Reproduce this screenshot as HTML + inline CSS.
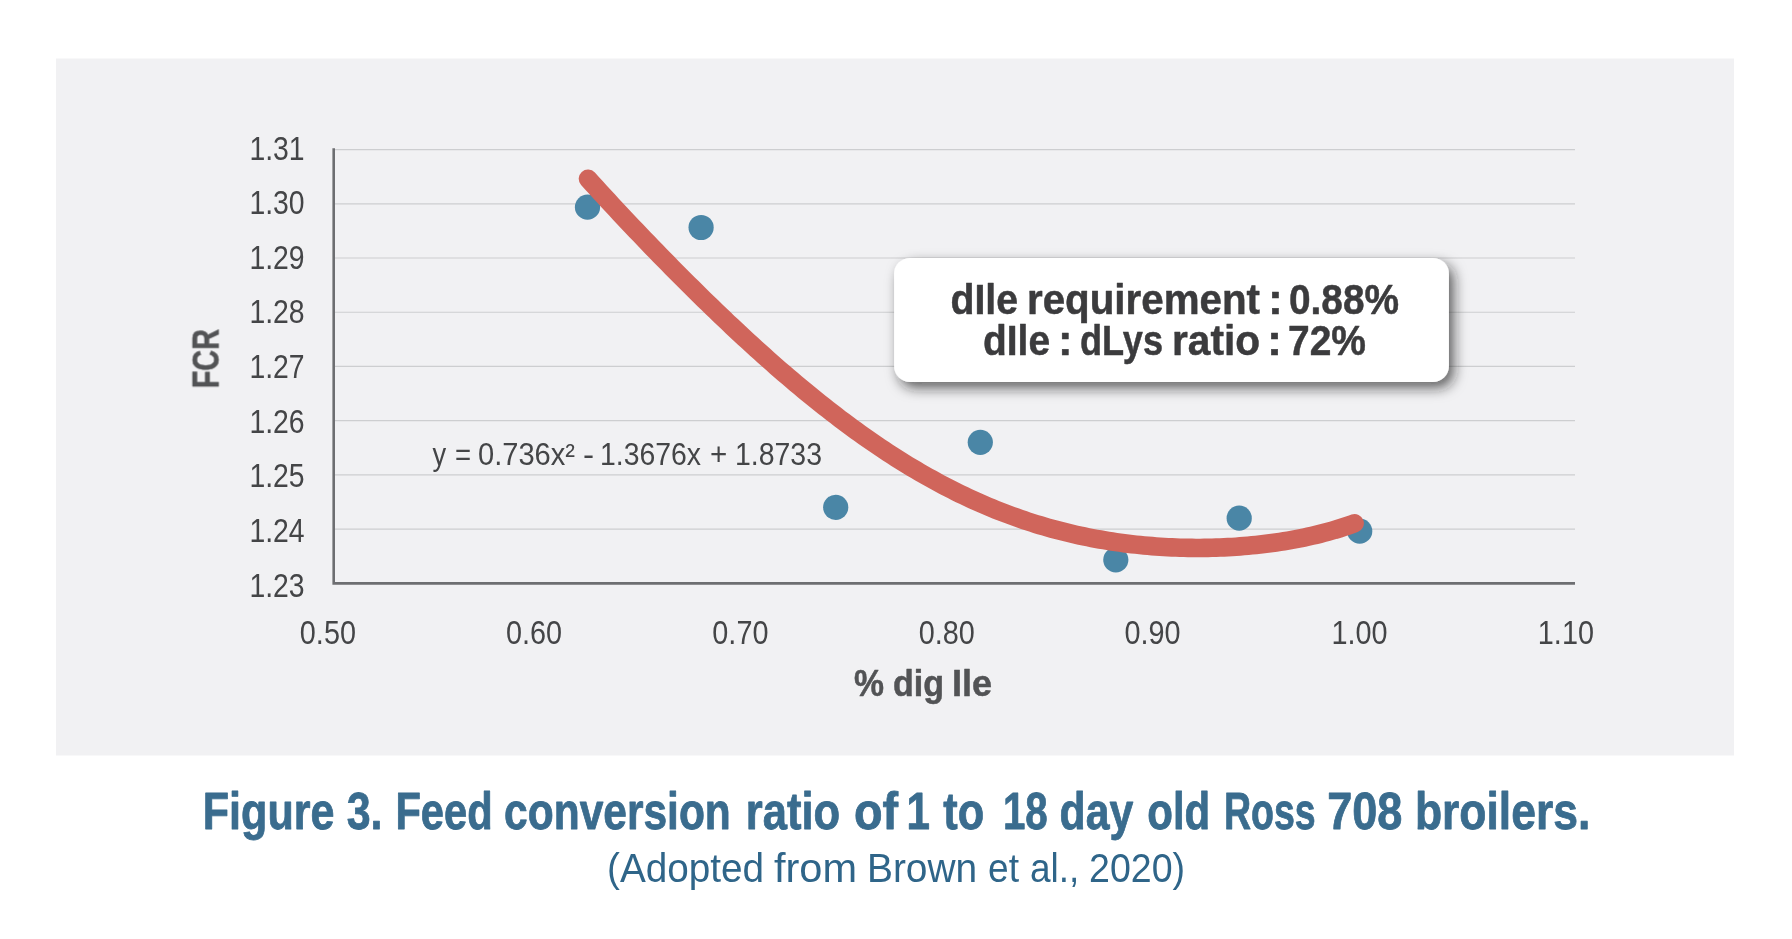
<!DOCTYPE html>
<html lang="en"><head><meta charset="utf-8"><title>Figure 3. Feed conversion ratio of 1 to 18 day old Ross 708 broilers</title>
<style>html,body{margin:0;padding:0;background:#fff}svg{display:block}text{font-family:"Liberation Sans",sans-serif}</style></head><body>
<svg width="1792" height="939" viewBox="0 0 1792 939">
<defs><filter id="sh" x="-10%" y="-30%" width="120%" height="170%"><feGaussianBlur in="SourceAlpha" stdDeviation="6.4"/><feOffset dx="4.5" dy="6" result="b"/><feFlood flood-color="#1c1c1c" flood-opacity="0.67"/><feComposite in2="b" operator="in"/><feMerge><feMergeNode/><feMergeNode in="SourceGraphic"/></feMerge></filter><filter id="n" filterUnits="userSpaceOnUse" x="0" y="0" width="1792" height="939" color-interpolation-filters="sRGB"><feOffset dx="0" dy="0"/></filter></defs>
<rect x="56" y="58.5" width="1678" height="697.0" fill="#f1f1f3"/>
<g stroke="#cdced0" stroke-width="1.2">
<line x1="334" y1="149.60" x2="1575" y2="149.60"/>
<line x1="334" y1="203.81" x2="1575" y2="203.81"/>
<line x1="334" y1="258.02" x2="1575" y2="258.02"/>
<line x1="334" y1="312.23" x2="1575" y2="312.23"/>
<line x1="334" y1="366.44" x2="1575" y2="366.44"/>
<line x1="334" y1="420.65" x2="1575" y2="420.65"/>
<line x1="334" y1="474.86" x2="1575" y2="474.86"/>
<line x1="334" y1="529.07" x2="1575" y2="529.07"/>
</g>
<path d="M333.7,148.2 V583.4 H1575" fill="none" stroke="#6d6e71" stroke-width="2.6"/>
<g filter="url(#n)">
<g fill="#444547" font-size="33.4" text-anchor="end">
<text x="304.6" y="159.60" textLength="55.2" lengthAdjust="spacingAndGlyphs">1.31</text>
<text x="304.6" y="214.22" textLength="55.2" lengthAdjust="spacingAndGlyphs">1.30</text>
<text x="304.6" y="268.85" textLength="55.2" lengthAdjust="spacingAndGlyphs">1.29</text>
<text x="304.6" y="323.48" textLength="55.2" lengthAdjust="spacingAndGlyphs">1.28</text>
<text x="304.6" y="378.10" textLength="55.2" lengthAdjust="spacingAndGlyphs">1.27</text>
<text x="304.6" y="432.73" textLength="55.2" lengthAdjust="spacingAndGlyphs">1.26</text>
<text x="304.6" y="487.35" textLength="55.2" lengthAdjust="spacingAndGlyphs">1.25</text>
<text x="304.6" y="541.98" textLength="55.2" lengthAdjust="spacingAndGlyphs">1.24</text>
<text x="304.6" y="596.60" textLength="55.2" lengthAdjust="spacingAndGlyphs">1.23</text>
</g>
<g fill="#444547" font-size="33.4" text-anchor="middle">
<text x="327.90" y="643.8" textLength="56.1" lengthAdjust="spacingAndGlyphs">0.50</text>
<text x="533.95" y="643.8" textLength="56.1" lengthAdjust="spacingAndGlyphs">0.60</text>
<text x="740.40" y="643.8" textLength="56.1" lengthAdjust="spacingAndGlyphs">0.70</text>
<text x="946.70" y="643.8" textLength="56.1" lengthAdjust="spacingAndGlyphs">0.80</text>
<text x="1152.50" y="643.8" textLength="56.1" lengthAdjust="spacingAndGlyphs">0.90</text>
<text x="1359.60" y="643.8" textLength="56.1" lengthAdjust="spacingAndGlyphs">1.00</text>
<text x="1565.90" y="643.8" textLength="56.1" lengthAdjust="spacingAndGlyphs">1.10</text>
</g>
<text y="695.6" font-size="36.2" font-weight="bold" fill="#525355" stroke="#525355" stroke-width="0.5" stroke-linejoin="round"><tspan x="854.00" textLength="30.03" lengthAdjust="spacingAndGlyphs">%</tspan> <tspan x="893.00" textLength="51.10" lengthAdjust="spacingAndGlyphs">dig</tspan> <tspan x="952.00" textLength="40.12" lengthAdjust="spacingAndGlyphs">Ile</tspan></text>
<text transform="translate(218.6,388.3) rotate(-90)" font-size="36.5" font-weight="bold" fill="#525355" stroke="#525355" stroke-width="0.5" stroke-linejoin="round" textLength="59.2" lengthAdjust="spacingAndGlyphs">FCR</text>
<text y="465.2" font-size="31.3" fill="#444547"><tspan x="432.50" textLength="13.64" lengthAdjust="spacingAndGlyphs">y</tspan> <tspan x="455.00" textLength="16.09" lengthAdjust="spacingAndGlyphs">=</tspan> <tspan x="478.00" textLength="97.01" lengthAdjust="spacingAndGlyphs">0.736x²</tspan> <tspan x="583.00" textLength="11.09" lengthAdjust="spacingAndGlyphs">-</tspan> <tspan x="600.00" textLength="100.99" lengthAdjust="spacingAndGlyphs">1.3676x</tspan> <tspan x="710.00" textLength="17.26" lengthAdjust="spacingAndGlyphs">+</tspan> <tspan x="735.00" textLength="87.03" lengthAdjust="spacingAndGlyphs">1.8733</tspan></text>
</g>
<g fill="#4a86a6">
<circle cx="587.5" cy="207.2" r="12.6"/>
<circle cx="701.1" cy="227.5" r="12.6"/>
<circle cx="835.7" cy="507.3" r="12.6"/>
<circle cx="980.3" cy="442.3" r="12.6"/>
<circle cx="1115.8" cy="559.8" r="12.6"/>
<circle cx="1239.2" cy="518.2" r="12.6"/>
<circle cx="1359.7" cy="531.2" r="12.6"/>
</g>
<path d="M588.0,178.80 L592.0,183.21 L596.0,187.60 L600.0,191.97 L604.0,196.32 L608.0,200.65 L612.0,204.97 L616.0,209.27 L620.0,213.55 L624.0,217.81 L628.0,222.06 L632.0,226.29 L636.0,230.50 L640.0,234.70 L644.0,238.88 L648.0,243.04 L652.0,247.19 L656.0,251.32 L660.0,255.43 L664.0,259.52 L668.0,263.60 L672.0,267.67 L676.0,271.71 L680.0,275.74 L684.0,279.75 L688.0,283.74 L692.0,287.71 L696.0,291.67 L700.0,295.61 L704.0,299.53 L708.0,303.42 L712.0,307.30 L716.0,311.16 L720.0,315.00 L724.0,318.82 L728.0,322.62 L732.0,326.39 L736.0,330.15 L740.0,333.88 L744.0,337.59 L748.0,341.28 L752.0,344.94 L756.0,348.58 L760.0,352.19 L764.0,355.78 L768.0,359.35 L772.0,362.89 L776.0,366.40 L780.0,369.89 L784.0,373.35 L788.0,376.79 L792.0,380.19 L796.0,383.57 L800.0,386.92 L804.0,390.25 L808.0,393.54 L812.0,396.80 L816.0,400.03 L820.0,403.24 L824.0,406.41 L828.0,409.55 L832.0,412.66 L836.0,415.73 L840.0,418.78 L844.0,421.79 L848.0,424.77 L852.0,427.71 L856.0,430.63 L860.0,433.51 L864.0,436.35 L868.0,439.16 L872.0,441.93 L876.0,444.67 L880.0,447.38 L884.0,450.05 L888.0,452.68 L892.0,455.28 L896.0,457.84 L900.0,460.37 L904.0,462.86 L908.0,465.31 L912.0,467.72 L916.0,470.10 L920.0,472.44 L924.0,474.74 L928.0,477.01 L932.0,479.24 L936.0,481.43 L940.0,483.58 L944.0,485.70 L948.0,487.78 L952.0,489.82 L956.0,491.82 L960.0,493.78 L964.0,495.71 L968.0,497.60 L972.0,499.45 L976.0,501.26 L980.0,503.04 L984.0,504.78 L988.0,506.48 L992.0,508.14 L996.0,509.77 L1000.0,511.36 L1004.0,512.91 L1008.0,514.42 L1012.0,515.90 L1016.0,517.34 L1020.0,518.75 L1024.0,520.12 L1028.0,521.45 L1032.0,522.75 L1036.0,524.01 L1040.0,525.23 L1044.0,526.42 L1048.0,527.58 L1052.0,528.70 L1056.0,529.79 L1060.0,530.84 L1064.0,531.86 L1068.0,532.84 L1072.0,533.79 L1076.0,534.71 L1080.0,535.59 L1084.0,536.44 L1088.0,537.26 L1092.0,538.04 L1096.0,538.80 L1100.0,539.52 L1104.0,540.21 L1108.0,540.87 L1112.0,541.50 L1116.0,542.10 L1120.0,542.66 L1124.0,543.20 L1128.0,543.71 L1132.0,544.19 L1136.0,544.63 L1140.0,545.05 L1144.0,545.44 L1148.0,545.80 L1152.0,546.13 L1156.0,546.44 L1160.0,546.71 L1164.0,546.96 L1168.0,547.18 L1172.0,547.37 L1176.0,547.53 L1180.0,547.67 L1184.0,547.77 L1188.0,547.86 L1192.0,547.91 L1196.0,547.93 L1200.0,547.93 L1204.0,547.90 L1208.0,547.84 L1212.0,547.76 L1216.0,547.65 L1220.0,547.51 L1224.0,547.34 L1228.0,547.14 L1232.0,546.92 L1236.0,546.66 L1240.0,546.38 L1244.0,546.07 L1248.0,545.73 L1252.0,545.36 L1256.0,544.95 L1260.0,544.52 L1264.0,544.06 L1268.0,543.56 L1272.0,543.03 L1276.0,542.47 L1280.0,541.87 L1284.0,541.24 L1288.0,540.58 L1292.0,539.87 L1296.0,539.14 L1300.0,538.36 L1304.0,537.54 L1308.0,536.69 L1312.0,535.79 L1316.0,534.85 L1320.0,533.86 L1324.0,532.83 L1328.0,531.76 L1332.0,530.64 L1336.0,529.47 L1340.0,528.24 L1344.0,526.97 L1348.0,525.64 L1352.0,524.25 L1354.6,523.32" fill="none" stroke="#d0655b" stroke-width="18.6" stroke-linecap="round" stroke-linejoin="round"/>
<rect x="894.1" y="257.9" width="554.8" height="124.1" rx="16" ry="16" fill="#fff" filter="url(#sh)"/>
<g fill="#3b3b3d" stroke="#3b3b3d" stroke-width="0.5" stroke-linejoin="round" font-size="41.6" font-weight="bold" filter="url(#n)">
<text y="314.1" ><tspan x="950.50" textLength="67.53" lengthAdjust="spacingAndGlyphs">dIle</tspan> <tspan x="1027.00" textLength="233.00" lengthAdjust="spacingAndGlyphs">requirement</tspan> <tspan x="1268.00" textLength="14.84" lengthAdjust="spacingAndGlyphs">:</tspan> <tspan x="1289.00" textLength="110.07" lengthAdjust="spacingAndGlyphs">0.88%</tspan></text>
<text y="355.2" ><tspan x="983.00" textLength="67.05" lengthAdjust="spacingAndGlyphs">dIle</tspan> <tspan x="1058.00" textLength="14.54" lengthAdjust="spacingAndGlyphs">:</tspan> <tspan x="1080.00" textLength="83.02" lengthAdjust="spacingAndGlyphs">dLys</tspan> <tspan x="1172.00" textLength="88.06" lengthAdjust="spacingAndGlyphs">ratio</tspan> <tspan x="1267.00" textLength="15.07" lengthAdjust="spacingAndGlyphs">:</tspan> <tspan x="1288.00" textLength="78.00" lengthAdjust="spacingAndGlyphs">72%</tspan></text>
</g>
<g filter="url(#n)">
<text y="828.7" font-size="51.5" font-weight="bold" fill="#3a6c8e" stroke="#3a6c8e" stroke-width="0.8" stroke-linejoin="round"><tspan x="202.80" textLength="131.64" lengthAdjust="spacingAndGlyphs">Figure</tspan> <tspan x="346.70" textLength="35.80" lengthAdjust="spacingAndGlyphs">3.</tspan> <tspan x="395.40" textLength="97.28" lengthAdjust="spacingAndGlyphs">Feed</tspan> <tspan x="504.10" textLength="226.75" lengthAdjust="spacingAndGlyphs">conversion</tspan> <tspan x="745.80" textLength="94.35" lengthAdjust="spacingAndGlyphs">ratio</tspan> <tspan x="853.90" textLength="44.16" lengthAdjust="spacingAndGlyphs">of</tspan> <tspan x="906.50" textLength="23.48" lengthAdjust="spacingAndGlyphs">1</tspan> <tspan x="943.30" textLength="40.90" lengthAdjust="spacingAndGlyphs">to</tspan> <tspan x="1002.90" textLength="44.84" lengthAdjust="spacingAndGlyphs">18</tspan> <tspan x="1059.50" textLength="73.72" lengthAdjust="spacingAndGlyphs">day</tspan> <tspan x="1147.30" textLength="62.98" lengthAdjust="spacingAndGlyphs">old</tspan> <tspan x="1223.90" textLength="91.77" lengthAdjust="spacingAndGlyphs">Ross</tspan> <tspan x="1327.20" textLength="75.20" lengthAdjust="spacingAndGlyphs">708</tspan> <tspan x="1414.90" textLength="175.39" lengthAdjust="spacingAndGlyphs">broilers.</tspan></text>
<text y="882.2" font-size="40" fill="#2f6589"><tspan x="607.00" textLength="157.08" lengthAdjust="spacingAndGlyphs">(Adopted</tspan> <tspan x="774.00" textLength="83.03" lengthAdjust="spacingAndGlyphs">from</tspan> <tspan x="867.00" textLength="110.14" lengthAdjust="spacingAndGlyphs">Brown</tspan> <tspan x="988.00" textLength="30.97" lengthAdjust="spacingAndGlyphs">et</tspan> <tspan x="1030.00" textLength="49.27" lengthAdjust="spacingAndGlyphs">al.,</tspan> <tspan x="1089.00" textLength="96.05" lengthAdjust="spacingAndGlyphs">2020)</tspan></text>
</g>
</svg></body></html>
